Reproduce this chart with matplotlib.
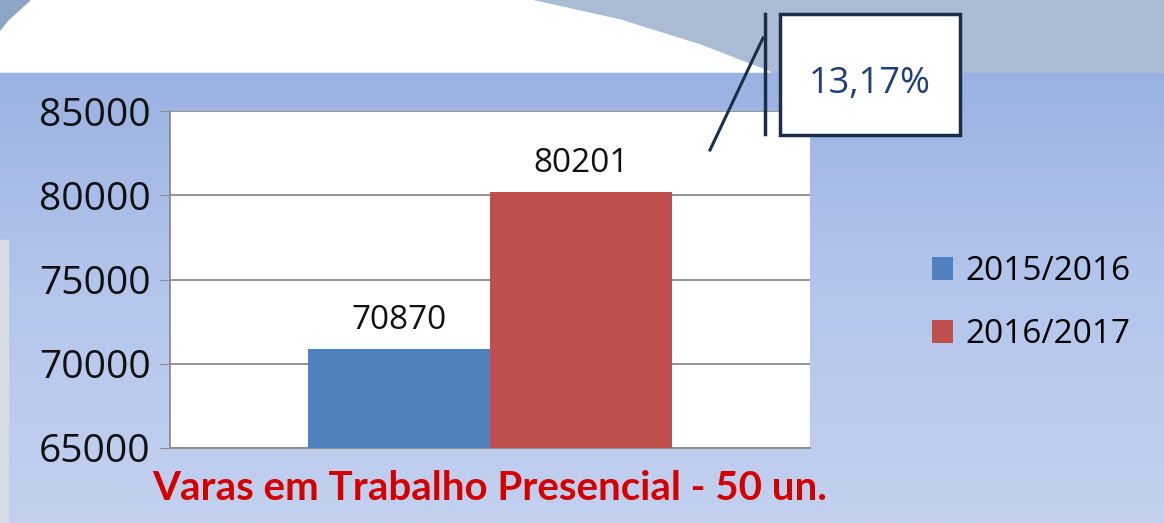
import numpy as np
import matplotlib.pyplot as plt
from matplotlib.patches import Rectangle, Polygon
from matplotlib.colors import LinearSegmentedColormap

# data
categories = ['2015/2016', '2016/2017']
values = [70870, 80201]
colors = ['#4f81bd', '#c0504d']
yticks = [65000, 70000, 75000, 80000, 85000]
title = 'Varas em Trabalho Presencial - 50 un.'
growth = '13,17%'

plt.rcParams['font.family'] = ['Open Sans', 'DejaVu Sans']

fig = plt.figure(figsize=(11.64, 5.23), dpi=100)

# background drawn in pixel coordinates
bg = fig.add_axes([0, 0, 1, 1], zorder=0)
bg.set_xlim(0, 1164)
bg.set_ylim(523, 0)
bg.axis('off')
grad = np.linspace(0, 1, 256).reshape(-1, 1)
cm = LinearSegmentedColormap.from_list('bgc', ['#9ab2e2', '#b4c6ec', '#c3d1ef'])
bg.imshow(grad, cmap=cm, extent=[0, 1164, 523, 72], aspect='auto', zorder=0)
bg.add_patch(Rectangle((0, 0), 1164, 72, color='#a9bcd4', zorder=1))
bg.add_patch(Polygon([(0, 0), (530, 0), (620, 20), (700, 45), (770, 72), (0, 72)],
                     closed=True, color='white', zorder=2))
bg.add_patch(Polygon([(0, 0), (30, 0), (8, 20), (0, 30)], closed=True, color='#8ea6c6', zorder=3))
bg.add_patch(Rectangle((0, 240), 8, 283, color='#d8dde4', zorder=3))

# main chart
ax = fig.add_axes([170 / 1164, 1 - 448 / 523, 640 / 1164, 337 / 523], zorder=2)
ax.set_facecolor('white')
x = np.array([-0.142, 0.142])
bars = ax.bar(x, [v - yticks[0] for v in values], bottom=yticks[0], width=0.284,
              color=colors, zorder=3)
for xi, v in zip(x, values):
    ax.text(xi, v + 700, str(v), ha='center', va='bottom', fontsize=24, color='#111111', zorder=4)
ax.set_xlim(-0.5, 0.5)
ax.set_ylim(yticks[0], yticks[-1])
ax.set_yticks(yticks)
ax.set_yticklabels([str(t) for t in yticks], fontsize=28, color='#111111')
ax.set_xticks([])
ax.grid(axis='y', color='#8c8c8c', linewidth=1.3, zorder=0)
for s in ['top', 'right']:
    ax.spines[s].set_visible(False)
for s in ['left', 'bottom']:
    ax.spines[s].set_color('#8c8c8c')
    ax.spines[s].set_linewidth(1.3)
ax.tick_params(axis='y', length=7, color='#8c8c8c', pad=7)
ax.set_xlabel(title, fontsize=29, fontweight='bold', color='#d40000', labelpad=16,
              family=['Lato', 'DejaVu Sans'])

# legend
leg = ax.legend(bars, categories, loc='center left', bbox_to_anchor=(1.19, 0.43),
                frameon=False, fontsize=24, handlelength=0.65, handleheight=0.65,
                handletextpad=0.35, labelspacing=0.9, borderpad=0, borderaxespad=0)

# callout
ov = fig.add_axes([0, 0, 1, 1], zorder=5)
ov.set_xlim(0, 1164)
ov.set_ylim(523, 0)
ov.axis('off')
ov.add_patch(Rectangle((780, 14), 180, 121, facecolor='white', edgecolor='#1c2d4a', linewidth=2.5))
ov.plot([765, 765], [14, 134], color='#1c2d4a', linewidth=2.5)
ov.plot([710, 763], [150, 38], color='#1c2d4a', linewidth=2.2)
ov.text(870, 84, growth, ha='center', va='center', fontsize=26, color='#1f3f7a')

fig.savefig('out.png', dpi=100)
